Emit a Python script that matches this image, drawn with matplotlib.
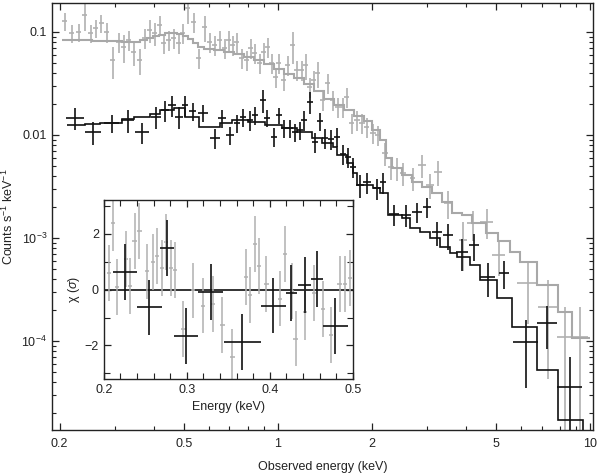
import numpy as np
import matplotlib.pyplot as plt

plt.rcParams['font.family'] = ['Liberation Sans', 'DejaVu Sans']
plt.rcParams['mathtext.fontset'] = 'custom'
plt.rcParams['mathtext.rm'] = 'Liberation Sans'
plt.rcParams['mathtext.it'] = 'Liberation Sans:italic'

GREY = '#b0b0b0'
DARK = '#111111'

# grey spectrum (energy keV, count rate, relative error)
grey_e = [0.2076, 0.2188, 0.2301, 0.2406, 0.2516, 0.2612, 0.2716, 0.2828, 0.2955, 0.3095,
          0.3213, 0.3332, 0.3458, 0.3614, 0.375, 0.389, 0.4036, 0.4188, 0.4311, 0.4473,
          0.4642, 0.4817, 0.4963, 0.515, 0.538, 0.558, 0.5834, 0.6053, 0.628, 0.6516,
          0.6761, 0.696, 0.7174, 0.739, 0.767, 0.7956, 0.819, 0.8435, 0.8752, 0.9018,
          0.9289, 0.9567, 0.9853, 1.0074, 1.045, 1.0766, 1.117, 1.15, 1.194, 1.229,
          1.266, 1.304, 1.343, 1.394, 1.446, 1.5, 1.557, 1.616, 1.664, 1.727,
          1.792, 1.859, 1.928, 2.016, 2.091, 2.203, 2.303, 2.407, 2.516, 2.707,
          2.895, 3.07, 3.257, 3.507, 3.92, 4.22, 4.67, 5.11, 6.33, 7.33,
          8.33, 9.28]
grey_f = [0.128, 0.0978, 0.1, 0.146, 0.0978, 0.1094, 0.1223, 0.1, 0.0534, 0.08,
          0.0715, 0.0836, 0.0639, 0.0534, 0.0874, 0.1045, 0.0978, 0.117, 0.0782, 0.0836,
          0.0874, 0.0782, 0.0978, 0.171, 0.125, 0.0559, 0.112, 0.08, 0.0748, 0.0836,
          0.0699, 0.0836, 0.0748, 0.08, 0.0559, 0.0534, 0.0699, 0.0625, 0.05, 0.0639,
          0.0715, 0.05, 0.0366, 0.05, 0.0342, 0.0478, 0.0748, 0.0428, 0.0428, 0.0478,
          0.0292, 0.0342, 0.04, 0.0219, 0.032, 0.0219, 0.0187, 0.0187, 0.0234, 0.0131,
          0.014, 0.0131, 0.012, 0.0105, 0.01, 0.00668, 0.0049, 0.00479, 0.00428, 0.00383,
          0.00512, 0.00327, 0.00437, 0.00219, 0.000957, 0.00139, 0.00144, 0.000684, 0.000366, 0.000216,
          0.000109, 0.000109]
grey_rel = [0.2, 0.2, 0.2, 0.3, 0.2, 0.2, 0.2, 0.22, 0.35, 0.22,
            0.3, 0.22, 0.27, 0.28, 0.22, 0.25, 0.25, 0.22, 0.22, 0.22,
            0.22, 0.22, 0.22, 0.3, 0.22, 0.22, 0.28, 0.22, 0.22, 0.22,
            0.22, 0.22, 0.22, 0.22, 0.22, 0.22, 0.22, 0.22, 0.22, 0.22,
            0.22, 0.22, 0.22, 0.22, 0.22, 0.22, 0.35, 0.22, 0.22, 0.28,
            0.22, 0.22, 0.28, 0.22, 0.22, 0.22, 0.22, 0.22, 0.22, 0.22,
            0.22, 0.22, 0.22, 0.22, 0.22, 0.25, 0.25, 0.25, 0.25, 0.25,
            0.25, 0.27, 0.27, 0.3, 0.5, 0.32, 0.32, 0.38, 0.6, 0.8,
            0.95, 0.95]
grey_wrel = [0.018] * 60 + [0.02] * 10 + [0.03] * 5 + [0.04, 0.05, 0.05, 0.08, 0.07, 0.06, 0.06]

# black spectrum
black_e = [0.224, 0.2553, 0.2938, 0.3305, 0.3665, 0.4064, 0.4345, 0.4571, 0.482, 0.5035,
           0.534, 0.575, 0.628, 0.662, 0.7015, 0.739, 0.773, 0.8129, 0.8435, 0.895,
           0.922, 0.971, 1.007, 1.045, 1.093, 1.134, 1.176, 1.211, 1.266, 1.314,
           1.363, 1.415, 1.479, 1.545, 1.616, 1.676, 1.74, 1.832, 1.928, 2.075,
           2.172, 2.355, 2.57, 2.79, 3.004, 3.235, 3.51, 3.89, 4.25, 4.71,
           5.3, 6.24, 7.3, 8.64]
black_de = [0.015, 0.015, 0.017, 0.015, 0.019, 0.015, 0.013, 0.013, 0.014, 0.011,
            0.014, 0.021, 0.023, 0.02, 0.02, 0.016, 0.017, 0.018, 0.019, 0.02,
            0.02, 0.021, 0.022, 0.023, 0.024, 0.025, 0.026, 0.027, 0.028, 0.029,
            0.03, 0.031, 0.032, 0.034, 0.036, 0.037, 0.038, 0.055, 0.058, 0.06,
            0.05, 0.09, 0.095, 0.1, 0.09, 0.12, 0.13, 0.17, 0.16, 0.25,
            0.2, 0.56, 0.55, 0.8]
black_f = [0.0146, 0.0107, 0.0131, 0.014, 0.0107, 0.015, 0.0175, 0.0195, 0.015, 0.0195,
           0.0171, 0.0164, 0.00935, 0.0146, 0.01, 0.0131, 0.015, 0.014, 0.0156, 0.0219,
           0.0146, 0.00957, 0.0156, 0.0117, 0.0117, 0.0107, 0.0112, 0.014, 0.0209, 0.00855,
           0.0137, 0.00935, 0.00914, 0.00957, 0.00654, 0.00611, 0.00489, 0.00327, 0.0035, 0.00306,
           0.0035, 0.00171, 0.00167, 0.00179, 0.002, 0.00114, 0.00107, 0.000731, 0.000855, 0.000418,
           0.000457, 9.77e-5, 1.5e-4, 3.57e-5]
black_df = [0.0035, 0.0027, 0.0026, 0.0035, 0.0025, 0.0035, 0.004, 0.0045, 0.0035, 0.0045,
            0.0035, 0.003, 0.002, 0.003, 0.002, 0.0027, 0.003, 0.003, 0.0032, 0.0055,
            0.0027, 0.002, 0.0028, 0.0024, 0.0024, 0.0022, 0.0023, 0.003, 0.005, 0.0019,
            0.0027, 0.002, 0.002, 0.002, 0.0014, 0.0013, 0.0011, 0.0008, 0.0008, 0.0007,
            0.0008, 0.0004, 0.0004, 0.0004, 0.00045, 0.0003, 0.0003, 0.00025, 0.00025, 0.00015,
            0.00014, 6.3e-5, 6.7e-5, 3.4e-5]

# folded models (step functions)
grey_model_edges = [0.2031, 0.2186, 0.2353, 0.2533, 0.2728, 0.2937, 0.3162, 0.3404, 0.3612, 0.3804,
                    0.3977, 0.4156, 0.4344, 0.4541, 0.4746, 0.4961, 0.5147, 0.5341, 0.5541, 0.5792,
                    0.6236, 0.6712, 0.7227, 0.778, 0.8377, 0.9018, 0.9709, 1.045, 1.125, 1.211,
                    1.304, 1.404, 1.512, 1.628, 1.752, 1.887, 2.001, 2.123, 2.219, 2.32,
                    2.497, 2.689, 2.894, 3.116, 3.355, 3.612, 3.889, 4.187, 4.642, 5.072,
                    5.541, 5.965, 6.763, 7.897, 8.755, 10.0]
grey_model = [0.0836, 0.0836, 0.0836, 0.0818, 0.0818, 0.0818, 0.08, 0.08, 0.0836, 0.0874,
              0.0915, 0.0935, 0.0978, 0.0978, 0.0956, 0.0915, 0.0855, 0.0782, 0.0715, 0.0684,
              0.0668, 0.0639, 0.0611, 0.0572, 0.0534, 0.0489, 0.0437, 0.0391, 0.0358, 0.0313,
              0.0268, 0.0224, 0.0195, 0.0175, 0.0153, 0.0137, 0.0112, 0.00894, 0.00597, 0.00478,
              0.00409, 0.0035, 0.00313, 0.00273, 0.00223, 0.00175, 0.00167, 0.0014, 0.00112, 0.000935,
              0.000731, 0.000581, 0.00035, 0.000191, 0.000107]
black_model_edges = [0.2108, 0.2406, 0.2687, 0.3162, 0.3455, 0.389, 0.4188, 0.4642, 0.5035, 0.558,
                     0.6516, 0.7124, 0.8013, 0.9081, 1.03, 1.15, 1.285, 1.383, 1.5, 1.545,
                     1.664, 1.74, 1.79, 2.016, 2.123, 2.252, 2.497, 2.649, 2.851, 3.07,
                     3.306, 3.559, 3.748, 4.124, 4.439, 5.03, 5.623, 6.761, 7.89, 9.5,
                     10.5]
black_model = [0.0125, 0.0128, 0.0131, 0.0143, 0.01496, 0.016, 0.0175, 0.0183, 0.01496, 0.01197,
               0.0131, 0.014, 0.01337, 0.0125, 0.0117, 0.0107, 0.00935, 0.00836, 0.00764, 0.0064,
               0.00535, 0.00428, 0.00327, 0.00306, 0.00273, 0.00167, 0.00156, 0.00125, 0.00114, 0.001,
               0.000818, 0.000715, 0.000654, 0.000547, 0.000391, 0.000261, 0.000137, 5.23e-5, 1.71e-5, 5e-6]

# residuals for the inset
res_grey_e = [0.206, 0.211, 0.216, 0.227, 0.232, 0.237, 0.243, 0.252, 0.259, 0.264,
              0.270, 0.275, 0.281, 0.286, 0.296, 0.307, 0.320, 0.332, 0.343, 0.355,
              0.371, 0.376, 0.382, 0.387, 0.396, 0.412, 0.418, 0.427, 0.431, 0.442,
              0.453, 0.464, 0.474, 0.484, 0.491, 0.497]
res_grey = [0.6, 2.38, 0.1, 1.1, 0.14, 1.73, 2.1, 0.65, 0.98, 1.21,
            0.77, 1.7, 0.77, 0.69, -1.4, -0.03, -0.57, -0.5, -1.27, -2.4,
            0.44, -0.18, 1.63, 0.86, 0.2, -0.32, 1.26, -0.06, -1.75, -0.81,
            -0.12, -0.69, -1.64, 0.21, 0.19, 0.42]
res_black_e = [0.225, 0.255, 0.276, 0.299, 0.329, 0.367, 0.404, 0.426, 0.442, 0.457, 0.479]
res_black_de = [0.0145, 0.015, 0.008, 0.015, 0.015, 0.022, 0.015, 0.007, 0.008, 0.007, 0.015]
res_black = [0.63, -0.64, 1.49, -1.67, -0.1, -1.87, -0.57, -0.12, 0.15, 0.38, -1.29]

fig = plt.figure(figsize=(6.0, 4.73), dpi=100)
ax = fig.add_axes([0.0867, 0.0909, 0.9013, 0.9028])

grey_e = np.array(grey_e)
grey_f = np.array(grey_f)
ax.errorbar(grey_e, grey_f, xerr=grey_e * np.array(grey_wrel), yerr=grey_f * np.array(grey_rel),
            fmt='none', ecolor=GREY, elinewidth=1.2, capsize=0, zorder=2)
ax.stairs(grey_model, grey_model_edges, color='#a8a8a8', lw=1.5, baseline=None, zorder=3)
ax.errorbar(black_e, black_f, xerr=black_de, yerr=black_df,
            fmt='none', ecolor=DARK, elinewidth=1.2, capsize=0, zorder=4)
ax.stairs(black_model, black_model_edges, color=DARK, lw=1.2, baseline=None, zorder=5)

ax.set_xscale('log')
ax.set_yscale('log')
ax.set_xlim(0.189, 10.22)
ax.set_ylim(1.37e-5, 0.191)
ax.set_xticks([0.2, 0.5, 1, 2, 5, 10])
ax.set_xticklabels(['0.2', '0.5', '1', '2', '5', '10'])
ax.set_yticks([1e-4, 1e-3, 0.01, 0.1])
ax.set_yticklabels(['10$^{-4}$', '10$^{-3}$', '0.01', '0.1'])
ax.tick_params(which='both', direction='in', top=True, right=True, labelsize=9, colors='#222222')
ax.tick_params(which='major', length=5, width=0.9)
ax.tick_params(which='minor', length=3, width=0.8)
ax.tick_params(axis='x', pad=6)
ax.set_xlabel('Observed energy (keV)', fontsize=9, color='#222222', labelpad=8)
ax.set_ylabel('Counts s$^{-1}$ keV$^{-1}$', fontsize=9, color='#222222', labelpad=4)
for s in ax.spines.values():
    s.set_linewidth(1.0)
    s.set_color('#222222')

# inset with residuals
ins = fig.add_axes([0.173, 0.1987, 0.415, 0.378])
ins.set_facecolor('white')
ins.axhline(0, color=DARK, lw=1.2, zorder=1)
ins.errorbar(res_grey_e, res_grey, xerr=0.0025, yerr=1.0, fmt='none', ecolor=GREY,
             elinewidth=1.1, capsize=0, zorder=2)
ins.errorbar(res_black_e, res_black, xerr=res_black_de, yerr=1.0, fmt='none', ecolor=DARK,
             elinewidth=1.2, capsize=0, zorder=3)
ins.set_xlim(0.2, 0.5)
ins.set_ylim(-3.2, 3.2)
ins.set_xticks([0.2, 0.3, 0.4, 0.5])
ins.set_xticklabels(['0.2', '0.3', '0.4', '0.5'])
ins.set_xticks(np.arange(0.2, 0.5, 0.02), minor=True)
ins.set_yticks([-2, 0, 2])
ins.set_yticklabels(['\u22122', '0', '2'])
ins.set_yticks([-3, -1, 1, 3], minor=True)
ins.tick_params(which='both', direction='in', top=True, right=True, labelsize=9, colors='#222222')
ins.tick_params(which='major', length=5, width=0.9)
ins.tick_params(which='minor', length=4, width=0.8)
ins.set_xlabel('Energy (keV)', fontsize=9, color='#222222', labelpad=4)
ins.set_ylabel('\u03c7 ($\\sigma$)', fontsize=9, color='#222222', labelpad=2)
for s in ins.spines.values():
    s.set_linewidth(1.0)
    s.set_color('#222222')

fig.savefig('out.png', dpi=100)
